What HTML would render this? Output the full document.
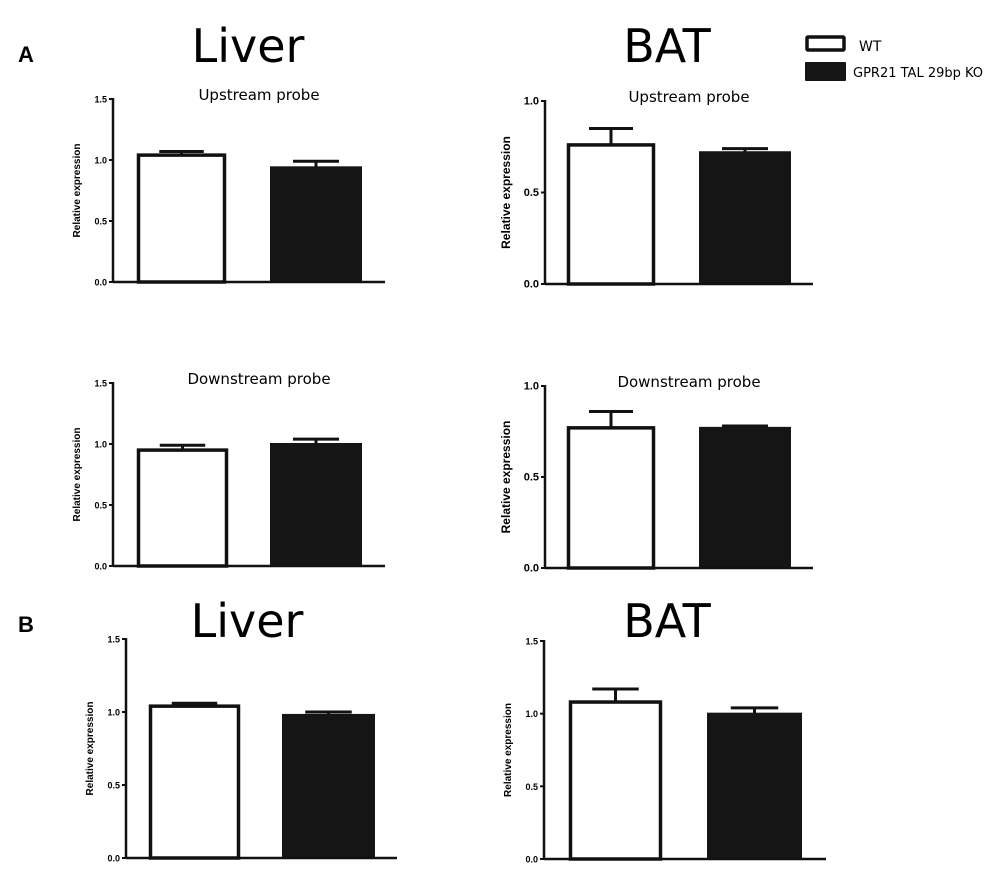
<!DOCTYPE html>
<html><head><meta charset="utf-8"><style>
html,body{margin:0;padding:0;background:#fff;width:1000px;height:881px;overflow:hidden}
svg text{font-family:"Liberation Sans",sans-serif}
</style></head><body>
<svg id="fig" width="1000" height="881" viewBox="0 0 1000 881" xmlns="http://www.w3.org/2000/svg">
<text x="18" y="62" font-size="22" font-weight="bold">A</text>
<text x="18" y="632" font-size="22" font-weight="bold">B</text>
<text x="248" y="62" font-size="46" text-anchor="middle" style="font-family:'DejaVu Sans',sans-serif">Liver</text>
<text x="667" y="62" font-size="46" text-anchor="middle" style="font-family:'DejaVu Sans',sans-serif">BAT</text>
<text x="247" y="637" font-size="46" text-anchor="middle" style="font-family:'DejaVu Sans',sans-serif">Liver</text>
<text x="667" y="637" font-size="46" text-anchor="middle" style="font-family:'DejaVu Sans',sans-serif">BAT</text>
<g>
<rect x="807" y="37" width="37" height="13" fill="#fff" stroke="#111" stroke-width="3.5" rx="1"/>
<text x="859" y="51" font-size="14" style="font-family:'DejaVu Sans',sans-serif">WT</text>
<rect x="805" y="62" width="41" height="19" fill="#151515" rx="1"/>
<text x="853" y="77" font-size="13" style="font-family:'DejaVu Sans',sans-serif">GPR21 TAL 29bp KO</text>
</g>
</svg>
<script>
const panelNames = ["liver-upstream","bat-upstream","liver-downstream","bat-downstream","liver-b","bat-b"];
const panelSubtitles = ["Upstream probe","Upstream probe","Downstream probe","Downstream probe","",""];
const yMaxes = [1.5,1.0,1.5,1.0,1.5,1.5];
const tickLabelsA = ["0.0","0.5","1.0","1.5"];
const tickLabelsB = ["0.0","0.5","1.0"];
const wtValues = [1.04,0.76,0.95,0.77,1.04,1.08];
const wtErrors = [0.03,0.09,0.04,0.09,0.02,0.09];
const koValues = [0.94,0.72,1.00,0.77,0.98,1.00];
const koErrors = [0.05,0.02,0.04,0.01,0.02,0.04];
// layout: [axisX, yTop, yZero, axisEnd, wtX0, wtX1, koX0, koX1]
const layout = [
 [113,99,282,385,137,226,270,362],
 [545,101,284,813,567,655,699,791],
 [113,383,566,385,137,228,270,362],
 [545,386,568,813,567,655,699,791],
 [126,639,858,397,149,240,282,375],
 [544,641,859,826,569,662,707,802]
];
const NS="http://www.w3.org/2000/svg";
const svg=document.getElementById('fig');
function mk(tag,attrs,parent){const e=document.createElementNS(NS,tag);for(const k in attrs)e.setAttribute(k,attrs[k]);(parent||svg).appendChild(e);return e;}
panelNames.forEach((pn,i)=>{
  const [ax,yt,y0,xe,w0,w1,k0,k1]=layout[i];
  const ymax=yMaxes[i];
  const ys=v=>y0-(v/ymax)*(y0-yt);
  const g=mk('g',{});
  
  
  const ticks = ymax===1.5?tickLabelsA:tickLabelsB;
  ticks.forEach(t=>{
    const y=ys(parseFloat(t));
    const tl=mk('line',{x1:ax-4,x2:ax,y1:y,y2:y,stroke:'#111','stroke-width':2},g);
    
    
    const tx=mk('text',{x:ax-6,y:y+3.5,'font-size':ymax===1.5?9:11,'font-weight':'bold','text-anchor':'end'},g);
    tx.textContent=t;
    
    
  });
  const yl=mk('text',{x:0,y:0,'font-size':ymax===1.5?10:12,'font-weight':'bold','text-anchor':'middle',transform:`translate(${ax-(ymax===1.5?33:35)},${(yt+y0)/2}) rotate(-90)`},g);
  yl.textContent='Relative expression';
  
  
  if(panelSubtitles[i]){
    const st=mk('text',{x:(ax+xe)/2+10,y:yt+1,'font-size':15,'text-anchor':'middle',style:"font-family:'DejaVu Sans',sans-serif"},g);
    st.textContent=panelSubtitles[i];
    
    
  }
  // bars
  const bars=[[w0,w1,wtValues[i],wtErrors[i],'wt'],[k0,k1,koValues[i],koErrors[i],'ko']];
  bars.forEach(([x0,x1,v,e,nm])=>{
    const top=ys(v), et=ys(v+e), cx=(x0+x1)/2, hw=(x1-x0)*0.25;
    const el=mk('line',{x1:cx,x2:cx,y1:top,y2:et,stroke:'#111','stroke-width':3},g);
    
    
    const ec=mk('line',{x1:cx-hw,x2:cx+hw,y1:et,y2:et,stroke:'#111','stroke-width':3},g);
    
    
    let r;
    if(nm==='wt') r=mk('rect',{x:x0+1.5,y:top,width:x1-x0-3,height:y0-top,fill:'#fff',stroke:'#111','stroke-width':3.5},g);
    else r=mk('rect',{x:x0,y:top-1,width:x1-x0,height:y0-top+1,fill:'#151515'},g);
    
    
  });
  const ya=mk('line',{x1:ax,x2:ax,y1:yt-1,y2:y0+1,stroke:'#111','stroke-width':2.5},g);
  
  
  const xa=mk('line',{x1:ax,x2:xe,y1:y0,y2:y0,stroke:'#111','stroke-width':2.5},g);
  
  
});
</script>
</body></html>
